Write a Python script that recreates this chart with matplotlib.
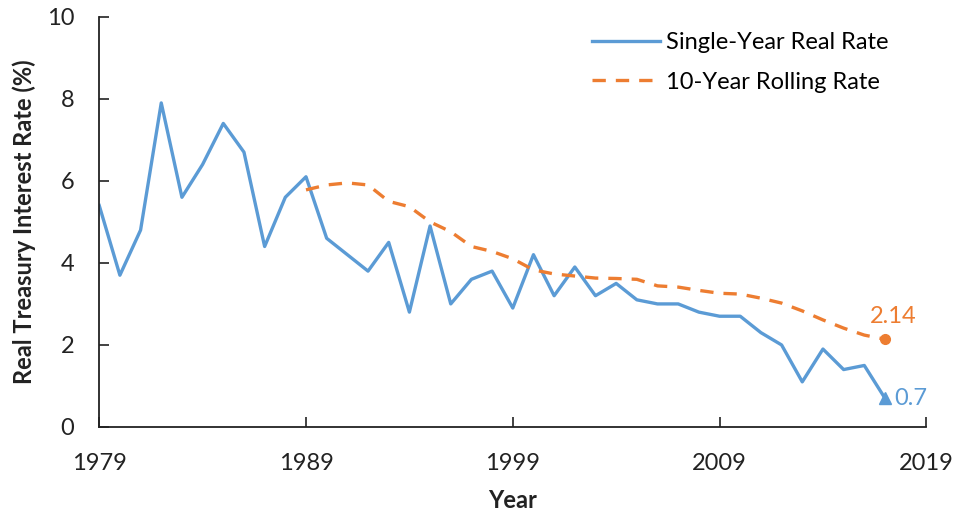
import matplotlib
matplotlib.use("Agg")
import matplotlib.pyplot as plt

# =====================================
# Datos
# =====================================

anios = list(range(1979, 2018))
tasa_anual = [5.4, 3.7, 4.8, 7.9, 5.6, 6.4, 7.4, 6.7, 4.4, 5.6,
              6.1, 4.6, 4.2, 3.8, 4.5, 2.8, 4.9, 3.0, 3.6, 3.8,
              2.9, 4.2, 3.2, 3.9, 3.2, 3.5, 3.1, 3.0, 3.0, 2.8,
              2.7, 2.7, 2.3, 2.0, 1.1, 1.9, 1.4, 1.5, 0.7]

anios_rolling = list(range(1989, 2018))
tasa_rolling = [5.78, 5.9, 5.95, 5.9, 5.5, 5.37, 5.0, 4.76, 4.4, 4.28,
                4.1, 3.83, 3.73, 3.68, 3.63, 3.62, 3.6, 3.44, 3.41, 3.33,
                3.26, 3.24, 3.14, 3.02, 2.83, 2.61, 2.41, 2.24, 2.14]

ticks_x = [1979, 1989, 1999, 2009, 2019]
ticks_y = [0, 2, 4, 6, 8, 10]

azul = "#5B9BD5"
naranja = "#ED7D31"

plt.rcParams["font.family"] = ["Lato", "DejaVu Sans"]
tam = 17

fig = plt.figure(figsize=(9.54, 5.16), dpi=100)
ax = fig.add_axes([0.104, 0.1725, 0.867, 0.795])

ax.plot(anios, tasa_anual, color=azul, linewidth=2.4, label="Single-Year Real Rate")
ax.plot(anios_rolling, tasa_rolling, color=naranja, linewidth=2.4,
        linestyle=(0, (4, 3)), label="10-Year Rolling Rate")

# marcadores finales y etiquetas
ax.plot(anios[-1], tasa_anual[-1], marker="^", color=azul, markersize=9)
ax.plot(anios_rolling[-1], tasa_rolling[-1], marker="o", color=naranja, markersize=7)
ax.annotate(f"{tasa_anual[-1]}", (anios[-1], tasa_anual[-1]), xytext=(7, 0),
            textcoords="offset points", color=azul, fontsize=tam, va="center")
ax.annotate(f"{tasa_rolling[-1]}", (anios_rolling[-1], tasa_rolling[-1]), xytext=(-11, 9),
            textcoords="offset points", color=naranja, fontsize=tam, ha="left", va="bottom")

ax.set_xlim(1979, 2019)
ax.set_ylim(0, 10)
ax.set_xticks(ticks_x)
ax.set_yticks(ticks_y)
ax.tick_params(direction="in", length=7, width=1.2, labelsize=tam, colors="#222222")
ax.tick_params(axis="x", pad=19)
ax.tick_params(axis="y", pad=18)

for lado in ["top", "right"]:
    ax.spines[lado].set_visible(False)
for lado in ["left", "bottom"]:
    ax.spines[lado].set_linewidth(1.3)
    ax.spines[lado].set_color("#222222")

ax.set_xlabel("Year", fontsize=tam, fontweight="bold", color="#222222")
ax.set_ylabel("Real Treasury Interest Rate (%)", fontsize=tam, fontweight="bold", color="#222222")
ax.xaxis.set_label_coords(0.5, -0.152)
ax.yaxis.set_label_coords(-0.076, 0.5)

ax.legend(loc="upper right", frameon=False, fontsize=tam, handlelength=2.9,
          bbox_to_anchor=(0.98, 1.015), labelspacing=0.8, handletextpad=0.25)

fig.savefig("out.png", dpi=100)
plt.close()
